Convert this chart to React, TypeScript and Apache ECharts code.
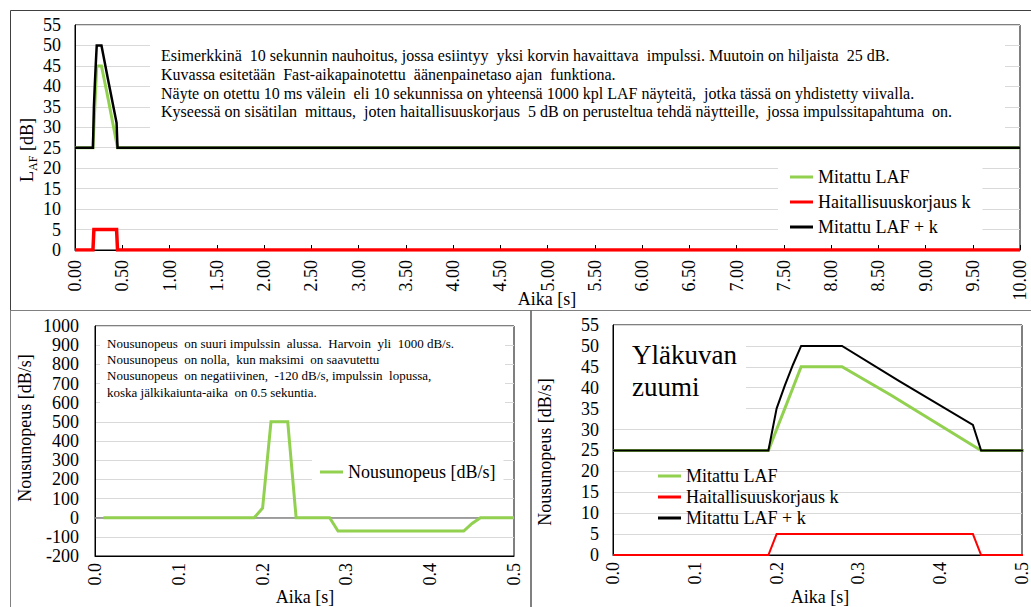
import React, { useEffect, useRef } from 'react';
import * as echarts from 'echarts';

const FONT = 'Liberation Serif';

// Mitattu LAF (dB) — breakpoints of the 10 ms sampled line
const timeLaf = [0, 0.19, 0.2, 0.21, 0.22, 0.23, 0.28, 0.34, 0.44, 0.45, 10];
const mitattuLaf = [25, 25, 30, 35, 40, 45, 45, 38.2, 26.2, 25, 25];
// Haitallisuuskorjaus k (dB)
const timeK = [0, 0.19, 0.2, 0.44, 0.45, 10];
const korjausK = [0, 0, 5, 5, 0, 0];
// Mitattu LAF + k (dB)
const timeSum = [0, 0.19, 0.2, 0.21, 0.22, 0.23, 0.28, 0.35, 0.44, 0.45, 10];
const lafPlusK = [25, 25, 35, 40.5, 45.5, 50, 50, 41.6, 31.1, 25, 25];
// Nousunopeus (dB/s)
const timeRate = [0.01, 0.19, 0.2, 0.21, 0.23, 0.24, 0.28, 0.29, 0.44, 0.45, 0.46, 0.5];
const nousunopeus = [0, 0, 50, 500, 500, 0, 0, -70, -70, -30, 0, 0];

const seriesNames = ['Mitattu LAF', 'Haitallisuuskorjaus k', 'Mitattu LAF + k'];
const rateName = 'Nousunopeus [dB/s]';

const topNote = [
  'Esimerkkinä  10 sekunnin nauhoitus, jossa esiintyy  yksi korvin havaittava  impulssi. Muutoin on hiljaista  25 dB.',
  'Kuvassa esitetään  Fast-aikapainotettu  äänenpainetaso ajan  funktiona.',
  'Näyte on otettu 10 ms välein  eli 10 sekunnissa on yhteensä 1000 kpl LAF näyteitä,  jotka tässä on yhdistetty viivalla.',
  'Kyseessä on sisätilan  mittaus,  joten haitallisuuskorjaus  5 dB on perusteltua tehdä näytteille,  jossa impulssitapahtuma  on.',
];
const rateNote = [
  'Nousunopeus  on suuri impulssin  alussa.  Harvoin  yli  1000 dB/s.',
  'Nousunopeus  on nolla,  kun maksimi  on saavutettu',
  'Nousunopeus  on negatiivinen,  -120 dB/s, impulssin  lopussa,',
  'koska jälkikaiunta-aika  on 0.5 sekuntia.',
];

const zip = (xs: number[], ys: number[]) => xs.map((x, i) => [x, ys[i]]);

const GREEN = '#92d050';
const RED = '#ff0000';
const BLACK = '#000000';
const GRID_LINE = '#d9d9d9';

export default function App() {
  const ref = useRef<HTMLDivElement>(null);

  useEffect(() => {
    if (!ref.current) return;
    const chart = echarts.init(ref.current, undefined, { renderer: 'svg' });

    const labelStyle = { color: '#000', fontFamily: FONT, fontSize: 18 };

    const valueX = (gridIndex: number, max: number, interval: number, digits: number, margin: number) => ({
      type: 'value',
      gridIndex,
      min: 0,
      max,
      interval,
      axisLine: { show: true, onZero: false, lineStyle: { color: '#000', width: 1 } },
      axisTick: { show: false },
      splitLine: { show: false },
      axisLabel: {
        ...labelStyle,
        rotate: 90,
        margin,
        formatter: (v: number) => v.toFixed(digits),
      },
    });

    const valueY = (gridIndex: number, min: number, max: number, interval: number, margin: number) => ({
      type: 'value',
      gridIndex,
      min,
      max,
      interval,
      axisLine: { show: true, lineStyle: { color: '#000' } },
      axisTick: { show: false },
      splitLine: { show: true, lineStyle: { color: GRID_LINE, width: 1 } },
      axisLabel: { ...labelStyle, margin, formatter: (v: number) => String(v) },
    });

    const lineSeries = (name: string, data: number[][], color: string, width: number, xi: number, yi: number, z: number) => ({
      type: 'line',
      name,
      data,
      xAxisIndex: xi,
      yAxisIndex: yi,
      symbol: 'none',
      z,
      lineStyle: { color, width, join: 'miter' },
      itemStyle: { color },
      silent: true,
    });

    const axisTitle = (x: number, y: number, text: string) => ({
      type: 'text',
      x,
      y,
      rotation: Math.PI / 2,
      z: 10,
      style: { text, fill: '#000', fontFamily: FONT, fontSize: 18, align: 'center', verticalAlign: 'middle' },
    });

    const hTitle = (x: number, y: number, text: string) => ({
      type: 'text',
      x,
      y,
      z: 10,
      style: { text, fill: '#000', fontFamily: FONT, fontSize: 18, align: 'center', verticalAlign: 'middle' },
    });

    const legendText = (lineHeight: number) => ({ color: '#000', fontFamily: FONT, fontSize: 18, lineHeight });

    chart.setOption({
      animation: false,
      backgroundColor: '#ffffff',
      grid: [
        { left: 75, right: 11, top: 25, bottom: 357, show: true, borderColor: '#000', borderWidth: 1, backgroundColor: 'transparent' },
        { left: 95, right: 517, top: 326, bottom: 51, show: true, borderColor: '#000', borderWidth: 1, backgroundColor: 'transparent' },
        { left: 613, right: 5, top: 325, bottom: 52, show: true, borderColor: '#000', borderWidth: 1, backgroundColor: 'transparent' },
      ],
      xAxis: [
        {
          ...valueX(0, 10, 0.5, 2, 10),
          axisTick: { show: true, inside: true, length: 5, lineStyle: { color: '#000' } },
        },
        valueX(1, 0.5, 0.1, 1, 7),
        {
          type: 'value',
          gridIndex: 1,
          position: 'bottom',
          min: 0,
          max: 0.5,
          axisLine: { show: true, onZero: true, lineStyle: { color: '#868686', width: 1.5 } },
          axisTick: { show: false },
          axisLabel: { show: false },
          splitLine: { show: false },
        },
        valueX(2, 0.5, 0.1, 1, 7),
      ],
      yAxis: [
        valueY(0, 0, 55, 5, 14),
        valueY(1, -200, 1000, 100, 16),
        valueY(2, 0, 55, 5, 14),
      ],
      legend: [
        {
          data: seriesNames,
          orient: 'vertical',
          left: 778,
          top: 162,
          padding: [5, 12, 5, 12],
          itemGap: 5,
          icon: 'rect',
          itemWidth: 23,
          itemHeight: 3,
          backgroundColor: '#ffffff',
          selectedMode: false,
          textStyle: legendText(20),
        },
        {
          data: [rateName],
          left: 312,
          top: 454,
          padding: [8, 8, 8, 8],
          icon: 'rect',
          itemWidth: 23,
          itemHeight: 3,
          backgroundColor: '#ffffff',
          selectedMode: false,
          textStyle: legendText(20),
        },
        {
          data: seriesNames,
          orient: 'vertical',
          left: 658,
          top: 467,
          padding: 0,
          itemGap: 3,
          icon: 'rect',
          itemWidth: 23,
          itemHeight: 3,
          selectedMode: false,
          textStyle: legendText(18),
        },
      ],
      series: [
        lineSeries(seriesNames[0], zip(timeLaf, mitattuLaf), GREEN, 3, 0, 0, 2),
        lineSeries(seriesNames[1], zip(timeK, korjausK), RED, 3.5, 0, 0, 3),
        lineSeries(seriesNames[2], zip(timeSum, lafPlusK), BLACK, 2.5, 0, 0, 4),
        lineSeries(rateName, zip(timeRate, nousunopeus), GREEN, 3, 1, 1, 2),
        lineSeries(seriesNames[0], zip(timeLaf, mitattuLaf), GREEN, 3, 3, 2, 2),
        lineSeries(seriesNames[1], zip(timeK, korjausK), RED, 2, 3, 2, 3),
        lineSeries(seriesNames[2], zip(timeSum, lafPlusK), BLACK, 2, 3, 2, 4),
      ],
      graphic: [
        // outer frames of the three charts
        { type: 'rect', z: 0, shape: { x: 10.5, y: 10.5, width: 1040, height: 300 }, style: { fill: 'none', stroke: '#404040', lineWidth: 1 } },
        { type: 'rect', z: 0, shape: { x: 10.5, y: 310.5, width: 520, height: 320 }, style: { fill: 'none', stroke: '#808080', lineWidth: 1 } },
        { type: 'rect', z: 0, shape: { x: 531.5, y: 310.5, width: 520, height: 320 }, style: { fill: 'none', stroke: '#808080', lineWidth: 1 } },
        // note boxes
        { type: 'rect', z: 5, shape: { x: 150, y: 36, width: 855, height: 102 }, style: { fill: '#ffffff' } },
        {
          type: 'text', z: 6, x: 161, y: 46,
          style: { text: topNote.join('\n'), fill: '#000', fontFamily: FONT, fontSize: 16, lineHeight: 18.8, align: 'left', verticalAlign: 'top' },
        },
        { type: 'rect', z: 5, shape: { x: 100, y: 331, width: 405, height: 80 }, style: { fill: '#ffffff' } },
        {
          type: 'text', z: 6, x: 107, y: 335,
          style: { text: rateNote.join('\n'), fill: '#000', fontFamily: FONT, fontSize: 13, lineHeight: 16.3, align: 'left', verticalAlign: 'top' },
        },
        { type: 'rect', z: 5, shape: { x: 614, y: 327, width: 132, height: 89 }, style: { fill: '#ffffff' } },
        {
          type: 'text', z: 6, x: 632, y: 339,
          style: { text: 'Yläkuvan\nzuumi', fill: '#000', fontFamily: FONT, fontSize: 27, lineHeight: 32, align: 'left', verticalAlign: 'top' },
        },
        // axis titles
        {
          type: 'text', x: 25, y: 150, rotation: Math.PI / 2, z: 10,
          style: {
            text: '{a|L}{s|AF}{a| [dB]}',
            align: 'center',
            verticalAlign: 'middle',
            fill: '#000',
            fontFamily: FONT,
            rich: {
              a: { fontFamily: FONT, fontSize: 18, lineHeight: 22, fill: '#000', verticalAlign: 'bottom' },
              s: { fontFamily: FONT, fontSize: 12, lineHeight: 14, fill: '#000', verticalAlign: 'bottom', padding: [0, 0, -3, 0] },
            },
          },
        },
        hTitle(547, 299, 'Aika [s]'),
        axisTitle(25, 428, 'Nousunopeus [dB/s]'),
        hTitle(305, 597, 'Aika [s]'),
        axisTitle(545, 452, 'Nousunopeus [dB/s]'),
        hTitle(820, 597, 'Aika [s]'),
      ],
    });

    return () => chart.dispose();
  }, []);

  return (
    <div
      ref={ref}
      style={{ position: 'absolute', left: 0, top: 0, width: 1031, height: 607, background: '#fff' }}
    />
  );
}
